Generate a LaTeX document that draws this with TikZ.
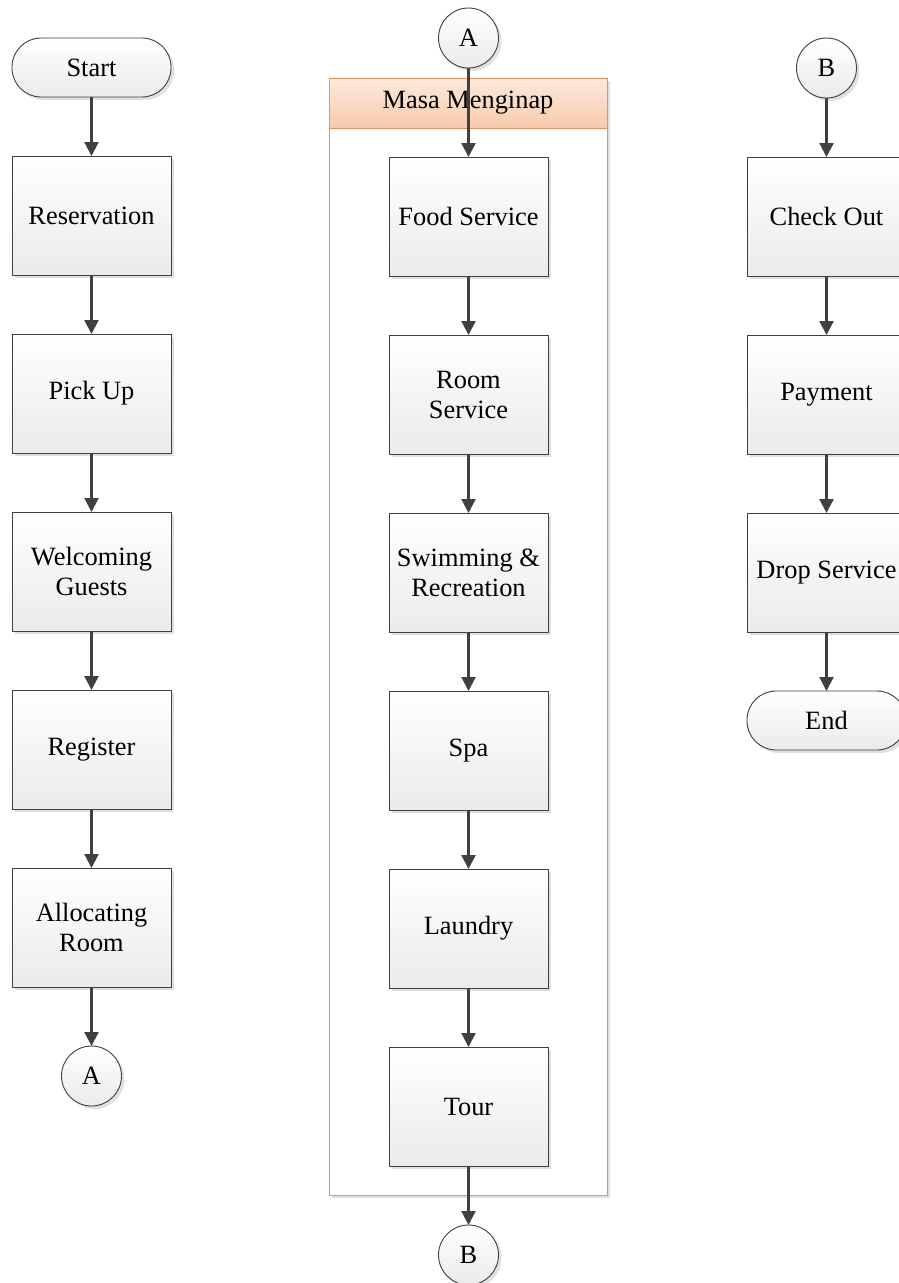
\documentclass[tikz,border=0pt]{standalone}
\usepackage{fontspec}
\setmainfont{Liberation Serif}
\usetikzlibrary{positioning}
\usetikzlibrary{arrows.meta}
\usetikzlibrary{shadows}
\tikzset{>={Triangle[width=14pt,length=14pt]}}
\definecolor{linegray}{RGB}{64,64,64}
\definecolor{lanebrd}{RGB}{222,150,100}
\definecolor{lanetop}{RGB}{252,234,220}
\definecolor{lanebot}{RGB}{246,202,172}
\tikzset{
  boxshadow/.style={drop shadow={shadow xshift=3pt, shadow yshift=-3pt, fill=black!12, opacity=1}},
  proc/.style={draw=linegray, line width=0.9pt, top color=white, bottom color=black!8, boxshadow,
    minimum width=159pt, minimum height=119pt, inner sep=0pt, outer sep=0pt, align=center},
  term/.style={draw=linegray, line width=0.9pt, top color=white, bottom color=black!8, boxshadow,
    minimum width=159pt, minimum height=59pt, rounded corners=29pt, inner sep=0pt, outer sep=0pt},
  conn/.style={circle, draw=linegray, line width=0.9pt, top color=white, bottom color=black!8, boxshadow,
    minimum size=60pt, inner sep=0pt, outer sep=0pt},
  lane/.style={draw=lanebrd, line width=1pt, fill=white, boxshadow, minimum width=278pt,
    minimum height=1117pt, inner sep=0pt, outer sep=0pt},
  lanehead/.style={draw=lanebrd, line width=1pt, top color=lanetop, bottom color=lanebot,
    minimum width=278pt, minimum height=50pt, inner sep=0pt, outer sep=0pt},
  flow/.style={draw=linegray, line width=2.2pt, ->},
}

\begin{document}
\begin{tikzpicture}[x=1pt, y=1pt, node distance=59pt, font=\fontsize{26.4}{30}\selectfont]
\useasboundingbox (0,0) rectangle (899,-1283);

% stay container
\node (lane) [lane] at (468,-636.5) {};
\node (lanehead) [lanehead, below=0pt of lane.north] {Masa Menginap};

% arrival
\node (start) [term] at (91.5,-67.5) {Start};
\node (resv) [proc, below=of start] {Reservation};
\node (pick) [proc, below=of resv] {Pick Up};
\node (welcome) [proc, below=of pick] {Welcoming\\Guests};
\node (register) [proc, below=of welcome] {Register};
\node (alloc) [proc, below=of register] {Allocating\\Room};
\node (outA) [conn, below=of alloc] {A};

% stay
\node (inA) [conn] at (468.5,-38) {A};
\node (food) [proc] at (468.5,-216.5) {Food Service};
\node (room) [proc, below=of food] {Room\\Service};
\node (swim) [proc, below=of room] {Swimming \&\\Recreation};
\node (spa) [proc, below=of swim] {Spa};
\node (laundry) [proc, below=of spa] {Laundry};
\node (tour) [proc, below=of laundry] {Tour};
\node (outB) [conn, below=of tour] {B};

% departure
\node (inB) [conn] at (826.5,-68) {B};
\node (checkout) [proc, below=of inB] {Check Out};
\node (pay) [proc, below=of checkout] {Payment};
\node (drop) [proc, below=of pay] {Drop Service};
\node (finish) [term, below=of drop] {End};

\path [flow] (start) -- (resv);
\path [flow] (resv) -- (pick);
\path [flow] (pick) -- (welcome);
\path [flow] (welcome) -- (register);
\path [flow] (register) -- (alloc);
\path [flow] (alloc) -- (outA);

\path [flow] (inA) -- (food);
\path [flow] (food) -- (room);
\path [flow] (room) -- (swim);
\path [flow] (swim) -- (spa);
\path [flow] (spa) -- (laundry);
\path [flow] (laundry) -- (tour);
\path [flow] (tour) -- (outB);

\path [flow] (inB) -- (checkout);
\path [flow] (checkout) -- (pay);
\path [flow] (pay) -- (drop);
\path [flow] (drop) -- (finish);
\end{tikzpicture}
\end{document}
